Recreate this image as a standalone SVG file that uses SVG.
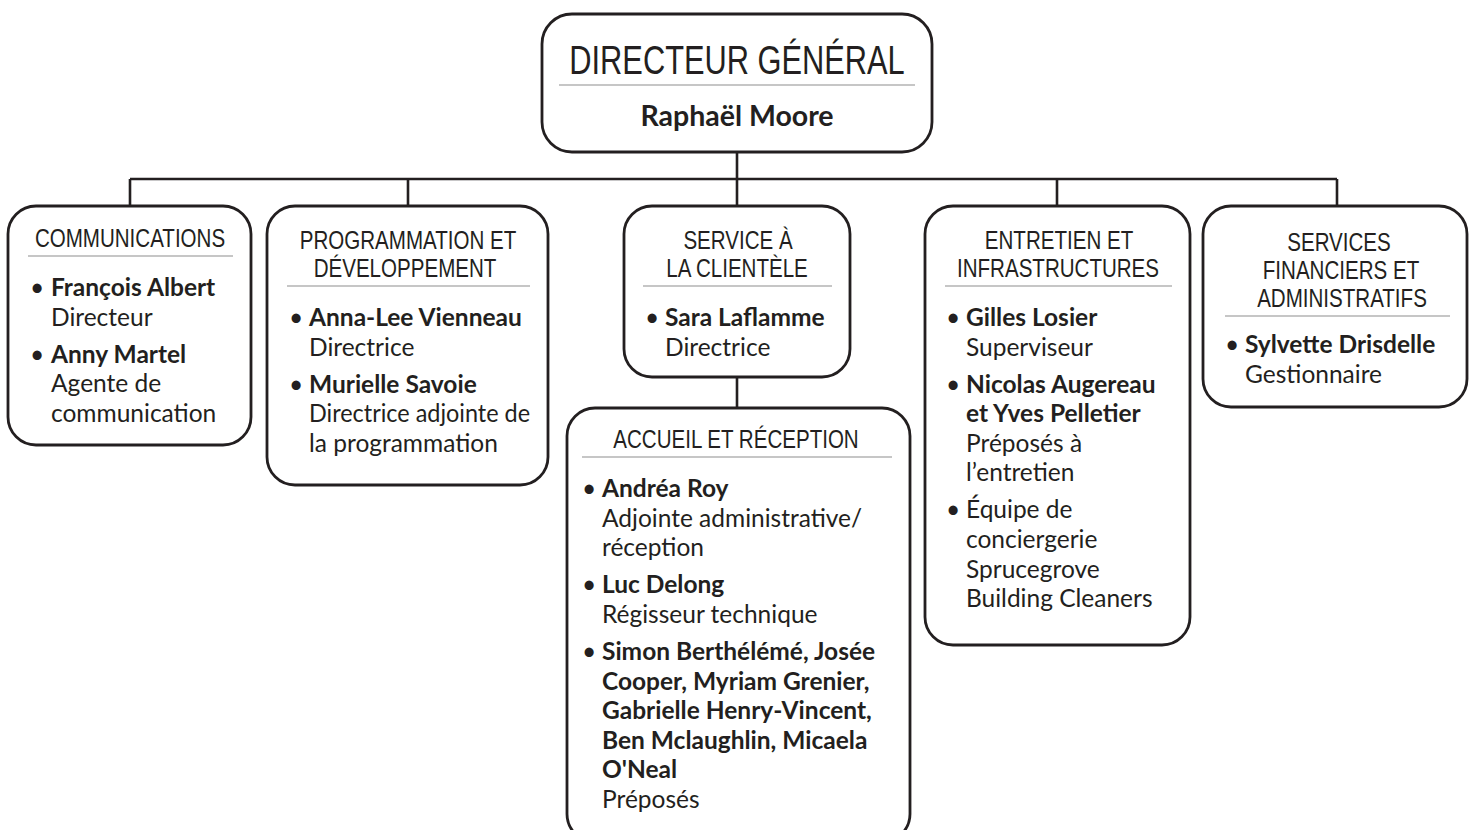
<svg xmlns="http://www.w3.org/2000/svg" width="1471" height="830" viewBox="0 0 1471 830">
<style>
.box{fill:#fff;stroke:#231f20;stroke-width:2.8}
.sep{stroke:#b3b3b3;stroke-width:1.5}
.con{fill:none;stroke:#231f20;stroke-width:2.6}
.t{font-family:"Liberation Sans",Arial,sans-serif;font-size:25px;fill:#231f20;text-anchor:middle}
.b1{font-family:Lato,"Open Sans",sans-serif;font-size:24.5px;fill:#231f20}
.bo{font-weight:bold}
</style>
<rect width="1471" height="830" fill="#fff"/>
<g id="connectors">
<path class="con" d="M737 152V179M130 179H1337M130 179V206M408 179V206M737 179V206M1057 179V206M1337 179V206M737 377V408"/>
</g>
<g id="directeur">
<rect class="box" x="542" y="14" width="390" height="138" rx="30"/>
<line class="sep" x1="559" y1="85" x2="915" y2="85"/>
<text class="t" transform="translate(737,74) scale(0.77,1)" style="font-size:40px">DIRECTEUR GÉNÉRAL</text>
<text class="b1 bo" x="737" y="126" text-anchor="middle" style="font-size:28.5px">Raphaël Moore</text>
</g>
<g id="communications">
<rect class="box" x="8" y="206" width="243" height="239" rx="28"/>
<line class="sep" x1="28" y1="256" x2="233" y2="256"/>
<text class="t" transform="translate(130,247) scale(0.822,1)">COMMUNICATIONS</text>
<text class="b1" y="296"><tspan x="30">•</tspan><tspan x="51" class="bo">François Albert</tspan></text>
<text class="b1" x="51" y="325.6">Directeur</text>
<text class="b1" y="362.6"><tspan x="30">•</tspan><tspan x="51" class="bo">Anny Martel</tspan></text>
<text class="b1" x="51" y="392.2">Agente de</text>
<text class="b1" x="51" y="421.8">communication</text>
</g>
<g id="programmation">
<rect class="box" x="267" y="206" width="281" height="279" rx="28"/>
<line class="sep" x1="287" y1="286" x2="530" y2="286"/>
<text class="t" transform="translate(408,249) scale(0.822,1)">PROGRAMMATION ET</text>
<text class="t" transform="translate(405,277) scale(0.822,1)">DÉVELOPPEMENT</text>
<text class="b1" y="326"><tspan x="289">•</tspan><tspan x="309" class="bo">Anna-Lee Vienneau</tspan></text>
<text class="b1" x="309" y="355.6">Directrice</text>
<text class="b1" y="392.6"><tspan x="289">•</tspan><tspan x="309" class="bo">Murielle Savoie</tspan></text>
<text class="b1" x="309" y="422.2" textLength="221" lengthAdjust="spacingAndGlyphs">Directrice adjointe de</text>
<text class="b1" x="309" y="451.8">la programmation</text>
</g>
<g id="service-clientele">
<rect class="box" x="624" y="206" width="226" height="171" rx="28"/>
<line class="sep" x1="643" y1="286" x2="832" y2="286"/>
<text class="t" transform="translate(738,249) scale(0.822,1)">SERVICE À</text>
<text class="t" transform="translate(737,277) scale(0.822,1)">LA CLIENTÈLE</text>
<text class="b1" y="326"><tspan x="645">•</tspan><tspan x="665" class="bo">Sara Laflamme</tspan></text>
<text class="b1" x="665" y="355.6">Directrice</text>
</g>
<g id="accueil">
<rect class="box" x="567" y="408" width="343" height="434" rx="28"/>
<line class="sep" x1="582" y1="457" x2="892" y2="457"/>
<text class="t" transform="translate(736,448) scale(0.822,1)">ACCUEIL ET RÉCEPTION</text>
<text class="b1" y="497"><tspan x="582">•</tspan><tspan x="602" class="bo">Andréa Roy</tspan></text>
<text class="b1" x="602" y="526.6">Adjointe administrative/</text>
<text class="b1" x="602" y="556.2">réception</text>
<text class="b1" y="593"><tspan x="582">•</tspan><tspan x="602" class="bo">Luc Delong</tspan></text>
<text class="b1" x="602" y="622.6">Régisseur technique</text>
<text class="b1" y="660"><tspan x="582">•</tspan><tspan x="602" class="bo">Simon Berthélémé, Josée</tspan></text>
<text class="b1 bo" x="602" y="689.6">Cooper, Myriam Grenier,</text>
<text class="b1 bo" x="602" y="719.2">Gabrielle Henry-Vincent,</text>
<text class="b1 bo" x="602" y="748.8">Ben Mclaughlin, Micaela</text>
<text class="b1 bo" x="602" y="778.4">O'Neal</text>
<text class="b1" x="602" y="808">Préposés</text>
</g>
<g id="entretien">
<rect class="box" x="925" y="206" width="265" height="439" rx="28"/>
<line class="sep" x1="945" y1="286" x2="1172" y2="286"/>
<text class="t" transform="translate(1059,249) scale(0.822,1)">ENTRETIEN ET</text>
<text class="t" transform="translate(1058,277) scale(0.822,1)">INFRASTRUCTURES</text>
<text class="b1" y="326"><tspan x="946">•</tspan><tspan x="966" class="bo">Gilles Losier</tspan></text>
<text class="b1" x="966" y="355.6">Superviseur</text>
<text class="b1" y="392.6"><tspan x="946">•</tspan><tspan x="966" class="bo">Nicolas Augereau</tspan></text>
<text class="b1 bo" x="966" y="422.2">et Yves Pelletier</text>
<text class="b1" x="966" y="451.8">Préposés à</text>
<text class="b1" x="966" y="481.4">l’entretien</text>
<text class="b1" y="518.4"><tspan x="946">•</tspan><tspan x="966">Équipe de</tspan></text>
<text class="b1" x="966" y="548">conciergerie</text>
<text class="b1" x="966" y="577.6">Sprucegrove</text>
<text class="b1" x="966" y="607.2">Building Cleaners</text>
</g>
<g id="services-financiers">
<rect class="box" x="1203" y="206" width="264" height="201" rx="28"/>
<line class="sep" x1="1225" y1="316" x2="1450" y2="316"/>
<text class="t" transform="translate(1339,251) scale(0.822,1)">SERVICES</text>
<text class="t" transform="translate(1341,279) scale(0.822,1)">FINANCIERS ET</text>
<text class="t" transform="translate(1342,307) scale(0.822,1)">ADMINISTRATIFS</text>
<text class="b1" y="353"><tspan x="1225">•</tspan><tspan x="1245" class="bo">Sylvette Drisdelle</tspan></text>
<text class="b1" x="1245" y="382.6">Gestionnaire</text>
</g>
</svg>
